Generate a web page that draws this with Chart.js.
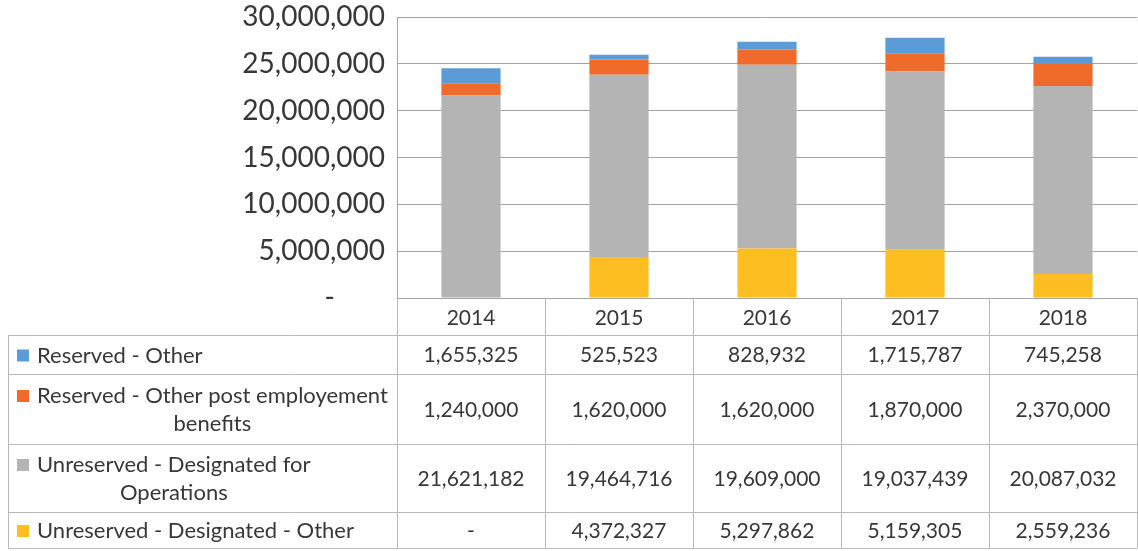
<!DOCTYPE html>
<html lang="en">
<head>
    <meta charset="UTF-8" />
    <title>Fund balance by year</title>
    <script src="https://cdn.jsdelivr.net/npm/chart.js"></script>
    <style>
        body { margin: 0; background: #fff; }
        #wrap { width: 1138px; height: 551px; position: relative; }
    </style>
</head>
<body>
    <div id="wrap"><canvas id="fundChart"></canvas></div>
    <script>
        const years = ['2014', '2015', '2016', '2017', '2018'];

        // stacked bottom -> top
        const designatedOther = [0, 4372327, 5297862, 5159305, 2559236];
        const designatedOps = [21621182, 19464716, 19609000, 19037439, 20087032];
        const postEmployment = [1240000, 1620000, 1620000, 1870000, 2370000];
        const reservedOther = [1655325, 525523, 828932, 1715787, 745258];

        const yTicks = [0, 5000000, 10000000, 15000000, 20000000, 25000000, 30000000];

        const FONT = 'Lato, "Liberation Sans", sans-serif';
        const TEXT = '#383838';

        const fmt = v => v === 0 ? '-' : v.toLocaleString('en-US');

        // table rows, in the order the data table lists them
        const tableRows = [
            { lines: ['Reserved - Other'], data: reservedOther, color: '#5b9bd7', h: 39 },
            { lines: ['Reserved - Other post employement', 'benefits'], data: postEmployment, color: '#f06a2a', h: 70 },
            { lines: ['Unreserved - Designated for', 'Operations'], data: designatedOps, color: '#b4b4b4', h: 68 },
            { lines: ['Unreserved - Designated - Other'], data: designatedOther, color: '#fdbe22', h: 36 }
        ];

        const dataTable = {
            id: 'dataTable',
            afterDraw(chart) {
                const ctx = chart.ctx;
                const xs = chart.scales.x;
                const area = chart.chartArea;
                const colW = (area.right - area.left) / years.length;
                const tableLeft = 8;
                const headerBottom = area.bottom + 37;
                const rowTops = [];
                let y = headerBottom;
                tableRows.forEach(r => { rowTops.push(y); y += r.h; });
                const tableBottom = y;

                ctx.save();
                ctx.strokeStyle = '#b9b9b9';
                ctx.lineWidth = 1;
                ctx.beginPath();
                // vertical column lines
                for (let i = 0; i <= years.length; i++) {
                    const x = Math.round(area.left + i * colW) + 0.5;
                    ctx.moveTo(x, area.bottom);
                    ctx.lineTo(x, tableBottom);
                }
                ctx.moveTo(tableLeft + 0.5, headerBottom);
                ctx.lineTo(tableLeft + 0.5, tableBottom);
                // horizontal row lines
                [headerBottom, ...rowTops.slice(1), tableBottom].forEach(yy => {
                    ctx.moveTo(tableLeft, Math.round(yy) + 0.5);
                    ctx.lineTo(area.right, Math.round(yy) + 0.5);
                });
                ctx.stroke();

                ctx.fillStyle = TEXT;
                ctx.font = '21px ' + FONT;
                ctx.textAlign = 'center';
                ctx.textBaseline = 'middle';
                years.forEach((yr, i) => {
                    ctx.fillText(yr, xs.getPixelForValue(i), area.bottom + 20);
                });

                tableRows.forEach((row, r) => {
                    const top = rowTops[r];
                    const mid = top + row.h / 2;
                    ctx.font = '21px ' + FONT;
                    ctx.textAlign = 'center';
                    ctx.fillStyle = TEXT;
                    row.data.forEach((v, i) => {
                        ctx.fillText(fmt(v), xs.getPixelForValue(i), mid + 1);
                    });

                    // legend key + label, lines centred inside the text block
                    ctx.font = '22px ' + FONT;
                    const lineH = 28;
                    const firstY = mid - (row.lines.length - 1) * lineH / 2 + 1;
                    const textX = 37;
                    const blockW = Math.max(...row.lines.map(l => ctx.measureText(l).width));
                    ctx.fillStyle = row.color;
                    ctx.fillRect(17, firstY - 6, 12, 12);
                    ctx.fillStyle = TEXT;
                    row.lines.forEach((l, k) => {
                        if (row.lines.length > 1) {
                            ctx.textAlign = 'center';
                            ctx.fillText(l, textX + blockW / 2, firstY + k * lineH);
                        } else {
                            ctx.textAlign = 'left';
                            ctx.fillText(l, textX, firstY);
                        }
                    });
                });
                ctx.restore();
            }
        };

        new Chart(document.getElementById('fundChart'), {
            type: 'bar',
            data: {
                labels: years,
                datasets: [
                    { label: 'Unreserved - Designated - Other', data: designatedOther, backgroundColor: '#fdbe22' },
                    { label: 'Unreserved - Designated for Operations', data: designatedOps, backgroundColor: '#b4b4b4' },
                    { label: 'Reserved - Other post employement benefits', data: postEmployment, backgroundColor: '#f06a2a' },
                    { label: 'Reserved - Other', data: reservedOther, backgroundColor: '#5b9bd7' }
                ]
            },
            options: {
                responsive: true,
                maintainAspectRatio: false,
                animation: false,
                layout: { padding: { top: 17, right: 1, left: 0, bottom: 0 } },
                datasets: { bar: { categoryPercentage: 0.4, barPercentage: 1 } },
                plugins: { legend: { display: false }, tooltip: { enabled: false } },
                scales: {
                    x: {
                        stacked: true,
                        grid: { display: false },
                        border: { display: false },
                        ticks: { display: false },
                        afterFit(scale) { scale.height = 253; }
                    },
                    y: {
                        stacked: true,
                        min: 0,
                        max: 30000000,
                        afterBuildTicks(scale) { scale.ticks = yTicks.map(v => ({ value: v })); },
                        afterFit(scale) {
                            scale.width = 397;
                            scale.paddingTop = 0;
                            scale.paddingBottom = 0;
                        },
                        grid: { color: '#a3a3a3', lineWidth: 1, drawTicks: false },
                        border: { display: true, color: '#a3a3a3' },
                        ticks: {
                            padding: 12,
                            color: TEXT,
                            font: { family: FONT, size: 28 },
                            callback: v => v === 0 ? '-       ' : v.toLocaleString('en-US')
                        }
                    }
                }
            },
            plugins: [dataTable]
        });
    </script>
</body>
</html>
